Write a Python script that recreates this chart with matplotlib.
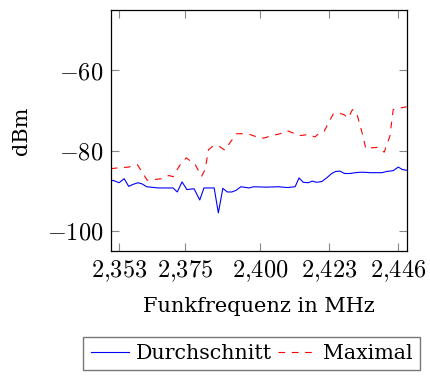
import matplotlib
matplotlib.use("Agg")
import matplotlib.pyplot as plt
from matplotlib.ticker import FixedLocator, FuncFormatter

# Frequenzen in GHz (Achsenbeschriftung mit Dezimalkomma)
f_avg = [2.3501, 2.3509, 2.3529, 2.3546, 2.3561, 2.3576, 2.3592, 2.3606, 2.3621,
         2.3659, 2.3709, 2.3723, 2.3739, 2.3755, 2.3779, 2.3798, 2.3812, 2.3830,
         2.3846, 2.3860, 2.3875, 2.3890, 2.3905, 2.3919, 2.3935, 2.3963, 2.3977,
         2.4020, 2.4060, 2.4090, 2.4116, 2.4129, 2.4143, 2.4160, 2.4173, 2.4188,
         2.4205, 2.4221, 2.4238, 2.4251, 2.4266, 2.4280, 2.4299, 2.4316, 2.4332,
         2.4349, 2.4366, 2.4382, 2.4405, 2.4421, 2.4443, 2.4460, 2.4473, 2.4488]
avg = [-87.6, -87.4, -88.0, -87.0, -88.9, -88.4, -88.0, -88.3, -89.0,
       -89.3, -89.3, -90.3, -87.8, -89.7, -89.5, -92.3, -89.3, -89.3,
       -89.3, -95.5, -89.4, -90.3, -90.3, -89.9, -89.0, -89.3, -89.0,
       -89.1, -89.0, -89.2, -89.0, -86.8, -87.9, -88.0, -87.6, -87.9,
       -87.7, -86.8, -85.7, -85.2, -85.1, -85.7, -85.7, -85.5, -85.4,
       -85.4, -85.5, -85.5, -85.5, -85.2, -85.0, -84.1, -84.7, -84.9]

f_max = [2.3501, 2.3526, 2.3561, 2.3590, 2.3623, 2.3670, 2.3695, 2.3709, 2.3731,
         2.3753, 2.3783, 2.3804, 2.3816, 2.3827, 2.3843, 2.3860, 2.3882, 2.3899,
         2.3921, 2.3938, 2.3966, 2.3988, 2.4010, 2.4038, 2.4066, 2.4088, 2.4116,
         2.4127, 2.4160, 2.4182, 2.4199, 2.4213, 2.4227, 2.4243, 2.4260, 2.4280,
         2.4293, 2.4307, 2.4321, 2.4338, 2.4352, 2.4371, 2.4393, 2.4413, 2.4432,
         2.4443, 2.4466, 2.4488]
mx = [-84.5, -84.3, -84.1, -83.5, -87.4, -87.0, -86.2, -86.5, -83.7,
      -81.8, -83.5, -86.4, -84.7, -79.8, -78.8, -78.8, -79.9, -78.0,
      -75.8, -75.8, -76.0, -76.6, -76.9, -76.3, -75.8, -75.0, -75.8,
      -76.3, -76.0, -76.6, -75.5, -75.2, -73.1, -70.9, -70.6, -71.1,
      -71.9, -69.8, -70.6, -75.2, -79.6, -79.3, -79.2, -80.4, -76.4,
      -69.8, -69.4, -69.1]

xticks = [2.353, 2.375, 2.400, 2.423, 2.446]
yticks = [-100, -80, -60]

plt.rcParams['mathtext.fontset'] = 'cm'
plt.rcParams['font.family'] = 'DejaVu Serif'

fig = plt.figure(figsize=(4.3, 3.76), dpi=100)
ax = fig.add_axes([0.2574, 0.3324, 0.6891, 0.6410])

ax.plot(f_avg, avg, color='blue', lw=0.8, label='Durchschnitt')
ax.plot(f_max, mx, color='red', lw=0.8, dashes=(6, 6), label='Maximal')

ax.set_xlim(2.3501, 2.4489)
ax.set_ylim(-105, -45)
ax.xaxis.set_major_locator(FixedLocator(xticks))
ax.yaxis.set_major_locator(FixedLocator(yticks))
ax.xaxis.set_major_formatter(FuncFormatter(lambda v, p: r'$%s$' % ('%.3f' % v).replace('.', '{,}')))
ax.yaxis.set_major_formatter(FuncFormatter(lambda v, p: r'$%d$' % v))
ax.tick_params(direction='in', length=6, width=0.8, color='#888888',
               top=True, right=True, labelsize=17.5, pad=5)
for s in ax.spines.values():
    s.set_linewidth(0.9)

ax.set_xlabel('Funkfrequenz in MHz', fontsize=15, labelpad=10)
ax.set_ylabel('dBm', fontsize=15)
ax.yaxis.set_label_coords(-0.27, 0.5)

fig.legend(loc='upper left', bbox_to_anchor=(0.194, 0.104), ncol=2, fontsize=14.8,
           frameon=True, fancybox=False, edgecolor='#555555', handlelength=1.85,
           handletextpad=0.35, columnspacing=0.3, borderpad=0.35, borderaxespad=0)

fig.savefig('out.png', dpi=100)
